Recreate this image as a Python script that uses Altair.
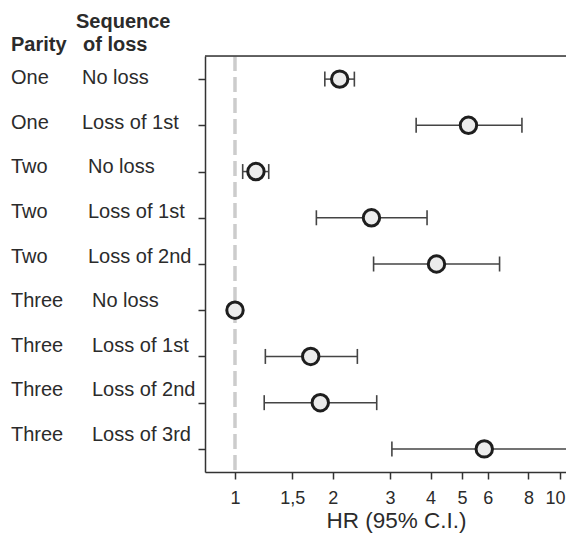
import json
import altair as alt
import pandas as pd

PARITY = ["One", "One", "Two", "Two", "Two", "Three", "Three", "Three", "Three"]
SEQUENCE = ["No loss", "Loss of 1st", "No loss", "Loss of 1st", "Loss of 2nd",
            "No loss", "Loss of 1st", "Loss of 2nd", "Loss of 3rd"]
HR = [2.10, 5.23, 1.16, 2.63, 4.17, 1.00, 1.71, 1.83, 5.85]
CI_LOW = [1.89, 3.61, 1.056, 1.78, 2.67, 1.00, 1.24, 1.23, 3.04]
CI_HIGH = [2.33, 7.64, 1.27, 3.90, 6.52, 1.00, 2.38, 2.73, 12.5]
TICK_VALUES = [1, 1.5, 2, 3, 4, 5, 6, 8, 10]
TICK_LABELS = ["1", "1,5", "2", "3", "4", "5", "6", "8", "10"]
HEADER_PARITY = "Parity"
HEADER_SEQ = ["Sequence", "of loss"]
X_TITLE = "HR (95% C.I.)"
REFERENCE = [1]

FONT = "Liberation Sans"
TEXT = "#2b2b2b"
W, H = 361, 416

df = pd.DataFrame({
    "row": list(range(len(HR))),
    "parity": PARITY,
    "sequence": SEQUENCE,
    "hr": HR,
    "lo": CI_LOW,
    "hi": CI_HIGH,
})

label_expr = f"{json.dumps(TICK_LABELS)}[indexof({json.dumps(TICK_VALUES)}, datum.value)]"
last_tick = f"datum.value == {TICK_VALUES[-1]}"

xscale = alt.Scale(type="log", domain=[0.8085, 10.44], nice=False)
yscale = alt.Scale(type="point", padding=0.5)

base = alt.Chart(df)

xaxis = alt.Axis(values=TICK_VALUES, labelExpr=label_expr, grid=False,
                 tickSize=7, tickWidth=1.5, tickColor="#333", domainColor="#333",
                 domainWidth=1.5, labelFont=FONT, labelFontSize=18, labelColor=TEXT,
                 labelPadding=10,
                 labelAlign={"condition": {"test": last_tick, "value": "right"}, "value": "center"},
                 labelOffset={"condition": {"test": last_tick, "value": 5}, "value": 0},
                 title=X_TITLE, titleFont=FONT, titleFontSize=22.5,
                 titleFontWeight="normal", titleColor=TEXT, titlePadding=2,
                 titleX=191, titleAlign="center")
yaxis = alt.Axis(labels=False, title=None, ticks=True, tickSize=7, tickWidth=1.5,
                 tickColor="#333", domainColor="#333", domainWidth=1.5, grid=False)

ref = alt.Chart(pd.DataFrame({"ref": REFERENCE})).mark_rule(
    color="#cccccc", strokeWidth=3.5, strokeDash=[15, 6]
).encode(x=alt.X("ref:Q", scale=xscale, axis=xaxis))

frame_top = alt.Chart(pd.DataFrame({"a": [0]})).mark_rule(
    color="#333", strokeWidth=1.5
).encode(x=alt.value(0), x2=alt.value(W), y=alt.value(0))

err = base.mark_rule(color="#444", strokeWidth=1.5, clip=True).encode(
    x=alt.X("lo:Q", scale=xscale), x2="hi:Q",
    y=alt.Y("row:O", scale=yscale, axis=yaxis))

cap_lo = base.mark_tick(color="#444", size=15, thickness=1.6, opacity=1, clip=True).encode(
    x=alt.X("lo:Q", scale=xscale), y=alt.Y("row:O", scale=yscale))
cap_hi = base.mark_tick(color="#444", size=15, thickness=1.6, opacity=1, clip=True).encode(
    x=alt.X("hi:Q", scale=xscale), y=alt.Y("row:O", scale=yscale))

pts = base.mark_point(shape="circle", filled=True, fill="#ececec", stroke="#1e1e1e",
                      strokeWidth=3, size=270, opacity=1, fillOpacity=1).encode(
    x=alt.X("hr:Q", scale=xscale), y=alt.Y("row:O", scale=yscale))

main = alt.layer(ref, frame_top, err, cap_lo, cap_hi, pts)

tscale = alt.Scale(type="point", range=[22.3, 378.8], padding=0)
par_text = base.mark_text(align="left", baseline="middle", font=FONT, fontSize=20,
                          color=TEXT).encode(
    x=alt.value(-194), y=alt.Y("row:O", scale=tscale, axis=None), text="parity:N")
seq_text = base.transform_calculate(
    sx="datum.parity == 'One' ? -123 : (datum.parity == 'Two' ? -117 : -113)"
).mark_text(align="left", baseline="middle", font=FONT, fontSize=20, color=TEXT).encode(
    x=alt.X("sx:Q", scale=None), y=alt.Y("row:O", scale=tscale, axis=None), text="sequence:N")

labels = alt.layer(par_text, seq_text)

hdr1 = alt.Chart(pd.DataFrame({"t": [HEADER_PARITY]})).mark_text(
    align="left", baseline="alphabetic", font=FONT, fontSize=20, fontWeight="bold", color=TEXT
).encode(x=alt.value(-194), y=alt.value(-5), text="t:N")
hdr2 = alt.Chart(pd.DataFrame({"t": [HEADER_SEQ[0]]})).mark_text(
    align="left", baseline="alphabetic", font=FONT, fontSize=20, fontWeight="bold", color=TEXT
).encode(x=alt.value(-129), y=alt.value(-28.4), text="t:N")
hdr3 = alt.Chart(pd.DataFrame({"t": [HEADER_SEQ[1]]})).mark_text(
    align="left", baseline="alphabetic", font=FONT, fontSize=20, fontWeight="bold", color=TEXT
).encode(x=alt.value(-122), y=alt.value(-5), text="t:N")

chart = alt.layer(main, labels, hdr1, hdr2, hdr3).resolve_scale(y="independent").properties(
    width=W, height=H,
    padding={"left": 197, "top": 48, "right": 0, "bottom": 62},
    autosize=alt.AutoSizeParams(type="none"),
).configure_view(strokeWidth=0).configure(font=FONT)

chart.save("out.html", embed_options={"renderer": "svg", "actions": False})
